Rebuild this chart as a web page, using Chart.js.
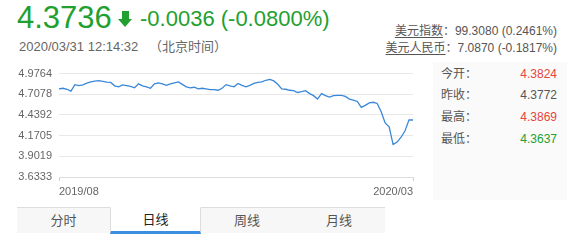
<!DOCTYPE html>
<html>
<head>
<meta charset="utf-8">
<script src="https://cdn.jsdelivr.net/npm/chart.js@4/dist/chart.umd.min.js"></script>
<style>
    html, body { margin: 0; padding: 0; background: #fff; }
    body { width: 567px; height: 242px; position: relative; overflow: hidden; font-family: "Liberation Sans", Arial, "Noto Sans CJK SC", sans-serif; }
    .abs { position: absolute; white-space: nowrap; }
    .green { color: #22a02f; }
    #price { left: 17px; top: 1px; font-size: 31px; line-height: 34px; }
    #arrow { left: 118px; top: 11px; width: 15px; height: 16px; }
    #arrow .stem { position: absolute; left: 4px; top: 0; width: 7px; height: 8px; background: #22a02f; }
    #arrow .head { position: absolute; left: 0; top: 8px; width: 0; height: 0; border-left: 7.5px solid transparent; border-right: 7.5px solid transparent; border-top: 8px solid #22a02f; }
    #change { left: 140px; top: 6px; font-size: 22px; line-height: 26px; }
    #time { left: 19px; top: 39px; font-size: 13px; line-height: 16px; color: #666; }
    .fx { right: 10px; font-size: 12px; line-height: 15px; color: #555; }
    .fx u { text-decoration: underline; text-underline-offset: 2px; }
    #panel { left: 433px; top: 62px; width: 134px; height: 138px; background: #fafafa; }
    .lbl { left: 441px; font-size: 12px; line-height: 15px; color: #555; }
    .val { right: 10px; font-size: 12px; line-height: 15px; color: #555; }
    .val.red { color: #e5453c; }
    .val.green { color: #22a02f; }
    #chartBox { position: absolute; left: 0; top: 60px; width: 417px; height: 142px; }
    #tabs { position: absolute; left: 17px; top: 207px; height: 26px; display: flex; }
    .tab { height: 25px; border-top: 1px solid #ddd; background: #f7f7f7; color: #555; font-size: 13px; line-height: 25px; text-align: center; box-sizing: content-box; }
    .tab.on { background: #fff; color: #222; border-top: 1px solid #fff; border-left: 1px solid #ddd; border-right: 1px solid #ddd; height: 23px; border-bottom: 3px solid #3b8fe0; line-height: 23px; }
</style>
</head>
<body>
<div id="price" class="abs green">4.3736</div>
<div id="arrow" class="abs"><div class="stem"></div><div class="head"></div></div>
<div id="change" class="abs green">-0.0036 (-0.0800%)</div>
<div id="time" class="abs">2020/03/31 12:14:32&nbsp;&nbsp;&nbsp;（北京时间）</div>
<div class="abs fx" style="top:24px"><u>美元指数</u>：99.3080 (0.2461%)</div>
<div class="abs fx" style="top:41px"><u>美元人民币</u>：7.0870 (-0.1817%)</div>

<div id="panel" class="abs"></div>
<div class="abs lbl" style="top:67px">今开：</div>
<div class="abs val red" style="top:67px">4.3824</div>
<div class="abs lbl" style="top:88px">昨收：</div>
<div class="abs val" style="top:88px">4.3772</div>
<div class="abs lbl" style="top:110px">最高：</div>
<div class="abs val red" style="top:110px">4.3869</div>
<div class="abs lbl" style="top:132px">最低：</div>
<div class="abs val green" style="top:132px">4.3637</div>

<div id="chartBox"><canvas id="rateChart" width="417" height="142"></canvas></div>

<div id="tabs">
    <div class="tab" style="width:93px">分时</div>
    <div class="tab on" style="width:89px">日线</div>
    <div class="tab" style="width:92px">周线</div>
    <div class="tab" style="width:92px">月线</div>
</div>

<script>
// daily close, 2019/08 .. 2020/03/31
const closes = [
    4.777, 4.786, 4.773, 4.748, 4.833, 4.821, 4.830, 4.852, 4.868, 4.879,
    4.884, 4.875, 4.865, 4.862, 4.818, 4.805, 4.830, 4.820, 4.811, 4.792,
    4.843, 4.818, 4.805, 4.786, 4.843, 4.856, 4.843, 4.824, 4.843, 4.856,
    4.868, 4.837, 4.805, 4.792, 4.799, 4.777, 4.786, 4.777, 4.769, 4.767,
    4.760, 4.786, 4.833, 4.818, 4.805, 4.849, 4.824, 4.805, 4.824, 4.849,
    4.862, 4.868, 4.890, 4.900, 4.881, 4.837, 4.777, 4.773, 4.760, 4.754,
    4.731, 4.741, 4.754, 4.716, 4.690, 4.646, 4.716, 4.690, 4.671, 4.690,
    4.693, 4.693, 4.680, 4.646, 4.633, 4.614, 4.538, 4.563, 4.595, 4.604,
    4.589, 4.481, 4.335, 4.284, 4.055, 4.087, 4.150, 4.233, 4.375, 4.374
];
const xTickLabels = ["2019/08", "2020/03"];
const xTickIndex = [5, 84];
const yTicks = [3.6333, 3.9019, 4.1705, 4.4392, 4.7078, 4.9764];

const labels = closes.map((_, i) => {
    const k = xTickIndex.indexOf(i);
    return k >= 0 ? xTickLabels[k] : "";
});
const last = closes.length - 1;

new Chart(document.getElementById("rateChart").getContext("2d"), {
    type: "line",
    data: {
        labels: labels,
        datasets: [{
            data: closes,
            borderColor: "#3a87da",
            borderWidth: 1.3,
            pointRadius: 0,
            tension: 0,
            fill: false
        }]
    },
    options: {
        responsive: false,
        animation: false,
        layout: { padding: { top: 11, right: 2, left: 0, bottom: 0 } },
        plugins: { legend: { display: false }, tooltip: { enabled: false } },
        scales: {
            x: {
                offset: false,
                afterFit: s => { s.height = 25; },
                border: { display: true, color: "#dcdcdc" },
                grid: {
                    drawOnChartArea: false,
                    drawTicks: true,
                    tickLength: 4,
                    color: c => (c.index === 0 || c.index === last) ? "#cfcfcf" : "rgba(0,0,0,0)"
                },
                ticks: {
                    autoSkip: false,
                    maxRotation: 0,
                    padding: 4,
                    color: "#666",
                    font: { family: "'Liberation Sans', Arial, sans-serif", size: 11 }
                }
            },
            y: {
                min: 3.6333,
                max: 4.9764,
                afterFit: s => { s.width = 59; },
                afterBuildTicks: s => { s.ticks = yTicks.map(v => ({ value: v })); },
                border: { display: false },
                grid: { color: "#e8e8e8", drawTicks: false },
                ticks: {
                    padding: 7,
                    color: "#666",
                    font: { family: "'Liberation Sans', Arial, sans-serif", size: 11 },
                    callback: v => Number(v).toFixed(4)
                }
            }
        }
    }
});
</script>
</body>
</html>
